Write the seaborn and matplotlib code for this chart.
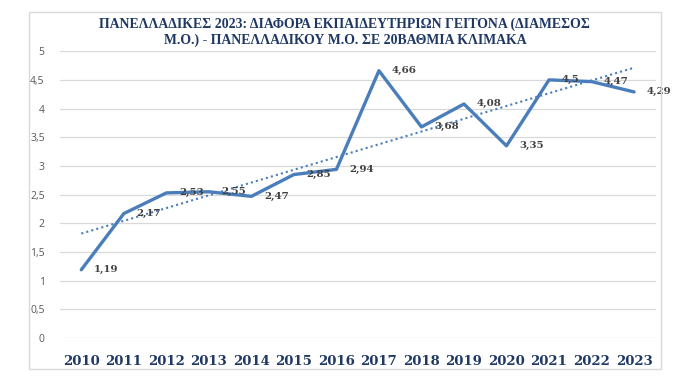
import numpy as np
import pandas as pd
import seaborn as sns
import matplotlib.pyplot as plt
from matplotlib.patches import Rectangle

years = [2010, 2011, 2012, 2013, 2014, 2015, 2016, 2017, 2018, 2019, 2020, 2021, 2022, 2023]
diff = [1.19, 2.17, 2.53, 2.55, 2.47, 2.85, 2.94, 4.66, 3.68, 4.08, 3.35, 4.5, 4.47, 4.29]
y_ticks = [0, 0.5, 1, 1.5, 2, 2.5, 3, 3.5, 4, 4.5, 5]

title = ('ΠΑΝΕΛΛΑΔΙΚΕΣ 2023: ΔΙΑΦΟΡΑ ΕΚΠΑΙΔΕΥΤΗΡΙΩΝ ΓΕΙΤΟΝΑ (ΔΙΑΜΕΣΟΣ\n'
         'Μ.Ο.) - ΠΑΝΕΛΛΑΔΙΚΟΥ Μ.Ο. ΣΕ 20ΒΑΘΜΙΑ ΚΛΙΜΑΚΑ')

navy = '#1f3864'
blue = '#4a7ebb'

df = pd.DataFrame({'year': years, 'diff': diff})

sns.set_style('white')
fig = plt.figure(figsize=(6.94, 3.82), dpi=100)
ax = fig.add_axes([0.0865, 0.115, 0.859, 0.751])

# outer chart border
fig.patches.append(Rectangle((29 / 694, 13 / 382), 632 / 694, 357 / 382,
                             transform=fig.transFigure, fill=False,
                             edgecolor='#d9d9d9', linewidth=1))

sns.lineplot(data=df, x='year', y='diff', color=blue, linewidth=2.4, ax=ax)

# linear trendline
slope, icept = np.polyfit(df['year'], df['diff'], 1)
trend = slope * df['year'] + icept
ax.plot(df['year'], trend, linestyle=(0, (1, 1.5)), color=blue, linewidth=1.5)

for x, y in zip(years, diff):
    lbl = f'{y:g}'.replace('.', ',')
    ax.annotate(lbl, (x, y), xytext=(9, 0), textcoords='offset points',
                ha='left', va='center', fontsize=7.4, fontweight='bold',
                family='DejaVu Serif', color='#404040')

ax.set_xlim(2009.5, 2023.52)
ax.set_ylim(0, 5)
ax.set_yticks(y_ticks)
ax.set_yticklabels([f'{t:g}'.replace('.', ',') for t in y_ticks],
                   family='Open Sans', fontsize=7.5, color='#595959')
ax.set_xticks(years)
ax.set_xticklabels([str(y) for y in years], family='DejaVu Serif',
                   fontweight='bold', fontsize=9.5, color=navy)
ax.tick_params(axis='y', length=0, pad=11)
ax.tick_params(axis='x', length=0, pad=12)
ax.grid(axis='y', color='#d9d9d9', linewidth=0.9)
ax.set_axisbelow(True)
for s in ax.spines.values():
    s.set_visible(False)
ax.set_xlabel('')
ax.set_ylabel('')

fig.text(0.497, 0.916, title, ha='center', va='center', fontsize=9.9,
         fontweight='bold', family='Liberation Serif', color=navy,
         linespacing=1.3)

fig.savefig('out.png', dpi=100)
